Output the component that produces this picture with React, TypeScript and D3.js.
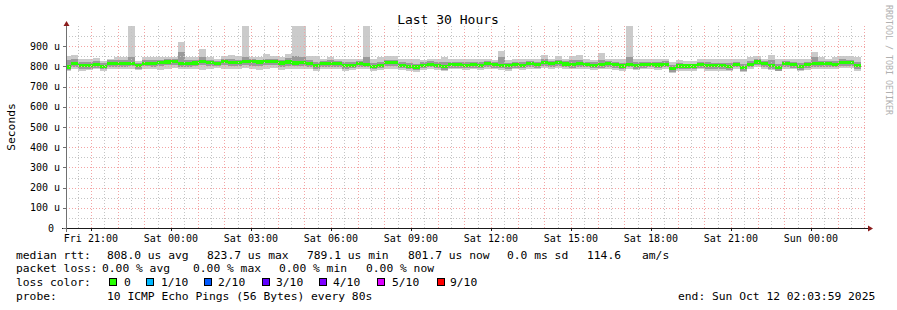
import * as d3 from 'd3';
import React, { useEffect, useRef } from 'react';

// 16 minute buckets starting Fri 20:00, values in microseconds
const median = [
  797, 816, 803, 804, 810, 801, 815, 815, 816, 815,
  803, 815, 816, 818, 822, 823, 813, 814, 817, 823,
  820, 814, 823, 820, 820, 823, 823, 822, 823, 823,
  817, 822, 817, 818, 814, 806, 814, 813, 813, 803,
  806, 813, 811, 798, 806, 819, 819, 806, 800, 797,
  806, 811, 806, 798, 809, 809, 806, 809, 806, 814,
  809, 806, 803, 809, 806, 814, 809, 819, 814, 818,
  812, 810, 814, 810, 806, 810, 813, 809, 802, 811,
  805, 809, 811, 807, 811, 789, 802, 802, 802, 810,
  804, 803, 803, 798, 811, 794, 811, 822, 813, 806,
  795, 813, 809, 799, 808, 813, 813, 813, 811, 819,
  819, 803,
];

const pingMax = [
  852, 856, 836, 836, 841, 826, 836, 845, 845, 1000,
  828, 848, 845, 845, 848, 848, 920, 848, 845, 885,
  845, 836, 852, 856, 850, 1000, 845, 845, 861, 850,
  845, 861, 1000, 1000, 852, 850, 838, 845, 838, 838,
  838, 838, 1000, 838, 845, 852, 850, 838, 838, 838,
  831, 838, 838, 848, 838, 838, 838, 838, 838, 838,
  831, 877, 834, 838, 838, 838, 838, 856, 838, 852,
  838, 852, 856, 836, 831, 866, 836, 836, 836, 1000,
  836, 836, 836, 836, 838, 821, 831, 826, 826, 836,
  838, 836, 836, 838, 836, 838, 845, 852, 838, 857,
  836, 838, 838, 838, 838, 870, 845, 838, 845, 852,
  852, 845,
];

const pingMin = [
  778, 785, 778, 781, 788, 778, 788, 788, 785, 788,
  780, 788, 785, 781, 788, 791, 785, 785, 788, 781,
  785, 791, 788, 788, 788, 790, 785, 781, 788, 791,
  781, 785, 788, 785, 785, 778, 785, 788, 785, 778,
  781, 785, 785, 778, 781, 788, 785, 781, 778, 772,
  781, 785, 781, 776, 785, 785, 781, 785, 781, 788,
  785, 781, 778, 785, 781, 788, 785, 790, 788, 790,
  785, 785, 788, 785, 781, 785, 788, 781, 778, 785,
  781, 785, 785, 781, 785, 768, 778, 778, 778, 785,
  778, 778, 778, 775, 785, 772, 785, 795, 788, 781,
  775, 788, 785, 775, 781, 788, 788, 785, 785, 792,
  792, 778,
];

const innerHi = [
  830, 838, 820, 820, 828, 815, 830, 832, 832, 848,
  818, 832, 830, 832, 836, 836, 870, 832, 832, 845,
  834, 828, 836, 836, 834, 845, 836, 834, 838, 836,
  832, 840, 850, 848, 830, 822, 828, 830, 826, 820,
  822, 826, 845, 816, 822, 834, 834, 822, 816, 814,
  820, 826, 822, 820, 824, 824, 822, 824, 822, 828,
  822, 845, 818, 824, 822, 828, 824, 838, 828, 834,
  826, 830, 832, 824, 820, 834, 826, 824, 818, 845,
  820, 824, 824, 822, 826, 806, 816, 814, 814, 824,
  820, 818, 818, 816, 824, 812, 826, 836, 826, 830,
  812, 826, 824, 816, 822, 845, 828, 826, 828, 836,
  834, 822,
];

const innerLo = [
  780, 799, 786, 787, 793, 785, 798, 799, 799, 800,
  786, 800, 799, 800, 806, 808, 797, 798, 801, 805,
  803, 802, 806, 804, 804, 806, 804, 802, 806, 808,
  799, 804, 802, 800, 798, 789, 798, 799, 797, 786,
  790, 797, 796, 785, 790, 803, 801, 790, 785, 780,
  790, 795, 790, 782, 794, 794, 790, 794, 790, 799,
  794, 790, 787, 794, 790, 799, 794, 804, 799, 803,
  796, 794, 799, 795, 790, 794, 798, 792, 786, 796,
  789, 794, 796, 791, 796, 774, 786, 786, 786, 794,
  787, 786, 786, 782, 796, 778, 796, 807, 798, 789,
  779, 798, 794, 782, 791, 797, 798, 796, 795, 804,
  804, 786,
];

const yTickValues = [0, 100, 200, 300, 400, 500, 600, 700, 800, 900];

const rttStats = ['808.0 us avg', '823.7 us max', '789.1 us min', '801.7 us now', '0.0 ms sd', '114.6', 'am/s'];
const lossStats = ['0.00 % avg', '0.00 % max', '0.00 % min', '0.00 % now'];
const lossLabels = ['0', '1/10', '2/10', '3/10', '4/10', '5/10', '9/10'];
const lossColors = ['#26ff00', '#00b8ff', '#0059ff', '#5e00ff', '#7e00ff', '#dd00ff', '#ff0000'];

const App: React.FC = () => {
  const svgRef = useRef<SVGSVGElement | null>(null);

  useEffect(() => {
    if (!svgRef.current) return;
    const svg = d3.select(svgRef.current);
    svg.selectAll('*').remove();

    const left = 66, right = 866, top = 26, bottom = 228;
    const mono = '"DejaVu Sans Mono", monospace';

    const start = new Date(2025, 9, 10, 20, 3, 59);
    const end = new Date(2025, 9, 12, 2, 3, 59);
    const bucketOrigin = new Date(2025, 9, 10, 20, 0, 0);

    const x = d3.scaleTime().domain([start, end]).range([left, right]);
    const y = d3.scaleLinear().domain([0, 1000]).range([bottom, top]);

    svg.append('rect').attr('width', 897).attr('height', 310).attr('fill', '#ffffff');

    svg.append('defs').append('clipPath').attr('id', 'plotclip')
      .append('rect').attr('x', left).attr('y', top)
      .attr('width', right - left).attr('height', bottom - top);

    const buckets = median.map((m, i) => ({
      t0: d3.timeMinute.offset(bucketOrigin, i * 16),
      t1: d3.timeMinute.offset(bucketOrigin, (i + 1) * 16),
      med: m, min: pingMin[i], max: pingMax[i], lo: innerLo[i], hi: innerHi[i],
    }));

    const plot = svg.append('g').attr('clip-path', 'url(#plotclip)').attr('shape-rendering', 'crispEdges');

    // smoke
    plot.selectAll('rect.outer').data(buckets).enter().append('rect')
      .attr('x', d => x(d.t0)).attr('width', d => x(d.t1) - x(d.t0))
      .attr('y', d => y(d.max)).attr('height', d => y(d.min) - y(d.max))
      .attr('fill', '#cbcbcb');
    plot.selectAll('rect.inner').data(buckets).enter().append('rect')
      .attr('x', d => x(d.t0)).attr('width', d => x(d.t1) - x(d.t0))
      .attr('y', d => y(d.hi)).attr('height', d => y(d.lo) - y(d.hi))
      .attr('fill', '#9a9a9a');
    // median band
    plot.selectAll('rect.med').data(buckets).enter().append('rect')
      .attr('x', d => x(d.t0)).attr('width', d => x(d.t1) - x(d.t0))
      .attr('y', d => y(d.med + 8)).attr('height', d => y(d.med - 8) - y(d.med + 8))
      .attr('fill', lossColors[0]);

    // grid, dotted, over the data like rrdtool
    const grid = svg.append('g').attr('fill', 'none').attr('stroke-dasharray', '1,2')
      .attr('shape-rendering', 'crispEdges');
    const px = (v: number) => Math.round(v) + 0.5;
    const minorTimes = d3.timeMinute.every(30)!.range(start, end).filter(t => t.getMinutes() !== 0);
    const majorTimes = d3.timeHour.range(start, end);
    const minorColor = '#c4c4c4';
    const majorColor = '#f3a4a4';
    grid.selectAll('line.vmin').data(minorTimes).enter().append('line')
      .attr('x1', d => px(x(d))).attr('x2', d => px(x(d))).attr('y1', top).attr('y2', bottom)
      .attr('stroke', minorColor);
    const minorY = d3.range(50, 1000, 100);
    grid.selectAll('line.hmin').data(minorY).enter().append('line')
      .attr('x1', left).attr('x2', right).attr('y1', d => px(y(d))).attr('y2', d => px(y(d)))
      .attr('stroke', minorColor);
    grid.selectAll('line.vmaj').data(majorTimes).enter().append('line')
      .attr('x1', d => px(x(d))).attr('x2', d => px(x(d))).attr('y1', top).attr('y2', bottom)
      .attr('stroke', majorColor);
    grid.selectAll('line.hmaj').data(yTickValues.filter(v => v > 0)).enter().append('line')
      .attr('x1', left).attr('x2', right).attr('y1', d => px(y(d))).attr('y2', d => px(y(d)))
      .attr('stroke', majorColor);

    // axes
    svg.append('line').attr('x1', 62).attr('x2', 870).attr('y1', bottom + 0.5).attr('y2', bottom + 0.5)
      .attr('stroke', '#1a1a1a');
    svg.append('line').attr('x1', left + 0.5).attr('x2', left + 0.5).attr('y1', bottom + 4).attr('y2', top - 2)
      .attr('stroke', '#707070');
    svg.append('path').attr('d', `M${left - 2.5},${top} L${left + 3.5},${top} L${left + 0.5},${top - 5} Z`).attr('fill', '#8b1c1c');
    svg.append('path').attr('d', `M${868},${bottom - 2.5} L${868},${bottom + 3.5} L${873},${bottom + 0.5} Z`).attr('fill', '#8b1c1c');

    const labelTimes = d3.timeHour.every(3)!.range(start, end);
    svg.selectAll('line.xtick').data(labelTimes).enter().append('line')
      .attr('x1', d => px(x(d))).attr('x2', d => px(x(d))).attr('y1', bottom).attr('y2', bottom + 3)
      .attr('stroke', '#1a1a1a');
    svg.selectAll('line.ytick').data(yTickValues).enter().append('line')
      .attr('x1', left - 3).attr('x2', left).attr('y1', d => px(y(d))).attr('y2', d => px(y(d)))
      .attr('stroke', '#707070');

    const fmt = d3.timeFormat('%a %H:%M');
    svg.selectAll('text.xlab').data(labelTimes).enter().append('text')
      .attr('x', d => x(d)).attr('y', 242).attr('text-anchor', 'middle')
      .attr('font-family', mono).attr('font-size', 10).attr('fill', '#000')
      .text(d => fmt(d));
    svg.selectAll('text.ylab').data(yTickValues).enter().append('text')
      .attr('x', d => (d === 0 ? 54 : 60)).attr('y', d => y(d) + 3.5).attr('text-anchor', 'end')
      .attr('font-family', mono).attr('font-size', 10).attr('fill', '#000')
      .text(d => (d === 0 ? '0' : `${d} u`));

    // title, unit label, watermark
    svg.append('text').attr('x', 448).attr('y', 24).attr('text-anchor', 'middle')
      .attr('font-family', mono).attr('font-size', 13).text('Last 30 Hours');
    svg.append('text').attr('transform', 'translate(15,127) rotate(-90)').attr('text-anchor', 'middle')
      .attr('font-family', mono).attr('font-size', 11.3).text('Seconds');
    svg.append('text').attr('transform', 'translate(886,60) rotate(90)').attr('text-anchor', 'middle')
      .attr('font-family', mono).attr('font-size', 8.3).attr('fill', '#b0b0b0')
      .text('RRDTOOL / TOBI OETIKER');

    // legend
    const lg = svg.append('g').attr('font-family', mono).attr('font-size', 11.3).attr('fill', '#000')
      .attr('style', 'white-space: pre');
    const line = (txt: string, lx: number, ly: number) => lg.append('text').attr('x', lx).attr('y', ly).text(txt);

    line('median rtt:', 16, 258.5);
    const rttX = [107, 207, 307, 408, 507, 587, 642];
    rttStats.forEach((s, i) => line(s, rttX[i], 258.5));

    line('packet loss:', 16, 272);
    const lossX = [102, 193, 279, 366];
    lossStats.forEach((s, i) => line(s, lossX[i], 272));

    line('loss color:', 16, 286);
    const boxX = [109, 146, 204, 262, 319, 377, 437];
    const labX = [124, 161, 218, 276, 333, 392, 450];
    lossLabels.forEach((s, i) => {
      lg.append('rect').attr('x', boxX[i] + 0.5).attr('y', 278.5).attr('width', 7).attr('height', 7)
        .attr('fill', lossColors[i]).attr('stroke', '#000').attr('stroke-width', 1);
      line(s, labX[i], 286);
    });

    line('probe:', 16, 299.5);
    line('10 ICMP Echo Pings (56 Bytes) every 80s', 107, 299.5);
    line('end: Sun Oct 12 02:03:59 2025', 678, 299.5);
  }, []);

  return (
    <svg ref={svgRef} width={897} height={310}
      style={{ position: 'absolute', left: 0, top: 0, display: 'block' }} />
  );
};

export default App;
